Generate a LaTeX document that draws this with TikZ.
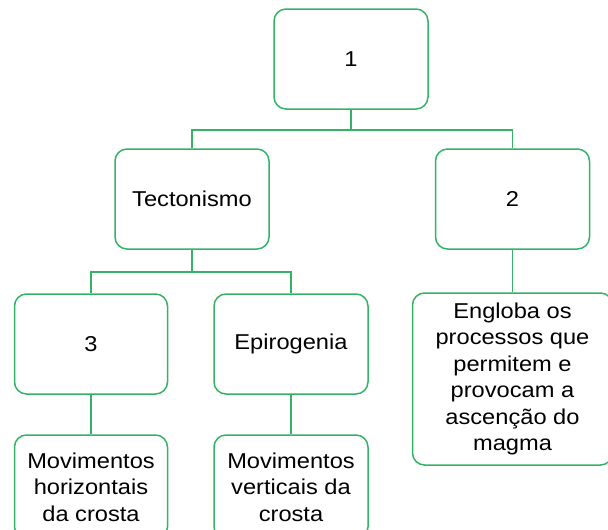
\documentclass[tikz,border=0pt]{standalone}
\usepackage{fontspec}
\setmainfont{Liberation Sans}[FakeStretch=1.1]
\definecolor{boxgreen}{RGB}{52,178,102}
\begin{document}
\begin{tikzpicture}[x=1pt,y=-1pt,
  box/.style={draw=boxgreen, line width=1.5pt, rounded corners=12pt, align=center,
    inner sep=0pt, font=\fontsize{21.5}{26.5}\selectfont},
  link/.style={draw=boxgreen, line width=1.5pt}]
\useasboundingbox (0,0) rectangle (608,530);
\clip (0,0) rectangle (608,530);
\node[box, minimum width=154pt, minimum height=100pt] (n1) at (351,59) {1};
\node[box, minimum width=154pt, minimum height=100pt] (tect) at (192,199) {Tectonismo};
\node[box, minimum width=154pt, minimum height=100pt] (n2) at (512.5,199) {2};
\node[box, minimum width=153pt, minimum height=100pt] (n3) at (91,344) {3};
\node[box, minimum width=154pt, minimum height=100pt] (epi) at (291,344) {Epirogenia};
\node[box, minimum width=153pt, minimum height=104pt] (mh) at (91,487) {Movimentos\\horizontais\\da crosta};
\node[box, minimum width=154pt, minimum height=104pt] (mv) at (291,487) {Movimentos\\verticais da\\crosta};
\node[box, minimum width=200pt, minimum height=172pt] (eng) at (512.5,379) {Engloba os\\processos que\\permitem e\\provocam a\\ascenção do\\magma};
\coordinate (b1) at (351,130);
\coordinate (b2) at (192,272);
\path[link] (n1.south) -- (b1);
\path[link] (tect.north) |- (b1) -| (n2.north);
\path[link] (tect.south) -- (b2);
\path[link] (n3.north) |- (b2) -| (epi.north);
\path[link] (n3.south) -- (mh.north);
\path[link] (epi.south) -- (mv.north);
\path[link] (n2.south) -- (eng.north);
\end{tikzpicture}
\end{document}
